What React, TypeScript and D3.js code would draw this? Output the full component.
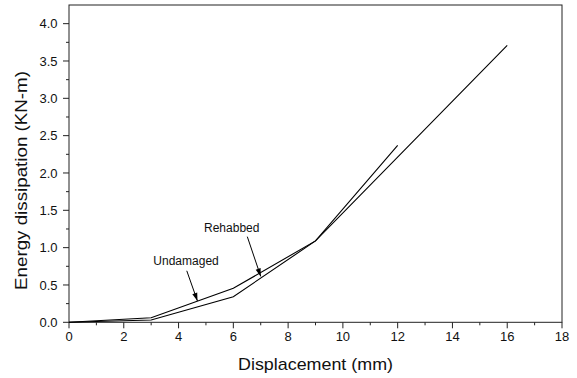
import React from "react";
import * as d3 from "d3";

const undamagedX = [0, 3, 6, 9, 12];
const undamagedY = [0, 0.06, 0.455, 1.09, 2.37];
const rehabbedX = [0, 3, 6, 9, 16];
const rehabbedY = [0, 0.03, 0.343, 1.09, 3.71];
const xTicks = [0, 2, 4, 6, 8, 10, 12, 14, 16, 18];
const yTicks = [0, 0.5, 1, 1.5, 2, 2.5, 3, 3.5, 4];
const xMinor = d3.range(1, 18, 2);
const yMinor = [0.25, 0.75, 1.25, 1.75, 2.25, 2.75, 3.25, 3.75];
// annotation positions in data units: [textX, textY, arrowFromX, arrowFromY, arrowToX, arrowToY]
const annoLabels = ["Undamaged", "Rehabbed"];
const annoText = [[3.08, 0.77], [4.93, 1.21]];
const annoArrow = [[4.3, 0.69, 4.69, 0.285], [6.51, 1.147, 7.0, 0.615]];

const W = 577, H = 378;
const L = 69, R = 562, T = 5, B = 322.3;
const FONT = "'Liberation Sans', Arial, Helvetica, sans-serif";

export default function App() {
  const x = d3.scaleLinear().domain([0, 18]).range([L, R]);
  const y = d3.scaleLinear().domain([0, 4.25]).range([B, T]);
  const line = d3.line<[number, number]>().x(d => x(d[0])).y(d => y(d[1]));
  const und = undamagedX.map((v, i) => [v, undamagedY[i]] as [number, number]);
  const reh = rehabbedX.map((v, i) => [v, rehabbedY[i]] as [number, number]);

  const arrowHead = (x1: number, y1: number, x2: number, y2: number) => {
    const ang = Math.atan2(y2 - y1, x2 - x1);
    const len = 8, wid = 2.6;
    const bx = x2 - len * Math.cos(ang), by = y2 - len * Math.sin(ang);
    const px = -Math.sin(ang) * wid, py = Math.cos(ang) * wid;
    return `M${x2},${y2}L${bx + px},${by + py}L${bx - px},${by - py}Z`;
  };

  return (
    <svg width={W} height={H} style={{ position: "absolute", left: 0, top: 0, background: "#fff" }} fontFamily={FONT}>
      <rect x={0} y={0} width={W} height={H} fill="#fff" />
      {/* frame */}
      <rect x={L} y={T} width={R - L} height={B - T} fill="none" stroke="#222" strokeWidth={1} />
      {/* x ticks */}
      {xTicks.map(t => (
        <g key={"xt" + t}>
          <line x1={x(t)} x2={x(t)} y1={B} y2={B + 6} stroke="#222" />
          <text x={x(t)} y={B + 18.5} fontSize={13} textAnchor="middle" fill="#111">{t}</text>
        </g>
      ))}
      {xMinor.map(t => (
        <line key={"xm" + t} x1={x(t)} x2={x(t)} y1={B} y2={B + 3} stroke="#222" />
      ))}
      {/* y ticks */}
      {yTicks.map(t => (
        <g key={"yt" + t}>
          <line x1={L - 6} x2={L} y1={y(t)} y2={y(t)} stroke="#222" />
          <text x={L - 11.5} y={y(t) + 4.6} fontSize={13} textAnchor="end" fill="#111">{t.toFixed(1)}</text>
        </g>
      ))}
      {yMinor.map(t => (
        <line key={"ym" + t} x1={L - 3} x2={L} y1={y(t)} y2={y(t)} stroke="#222" />
      ))}
      {/* axis titles */}
      <text x={(L + R) / 2} y={370} fontSize={17} textAnchor="middle" textLength={155} lengthAdjust="spacingAndGlyphs" fill="#111">Displacement (mm)</text>
      <text transform={`translate(27,180.5) rotate(-90)`} fontSize={17} textAnchor="middle" textLength={219} lengthAdjust="spacingAndGlyphs" fill="#111">Energy dissipation (KN-m)</text>
      {/* data lines */}
      <path d={line(und) || ""} fill="none" stroke="#000" strokeWidth={1.1} />
      <path d={line(reh) || ""} fill="none" stroke="#000" strokeWidth={1.1} />
      {/* annotations */}
      {annoLabels.map((lab, i) => {
        const [tx, ty] = annoText[i];
        const [ax1, ay1, ax2, ay2] = annoArrow[i];
        const X1 = x(ax1), Y1 = y(ay1), X2 = x(ax2), Y2 = y(ay2);
        return (
          <g key={lab}>
            <text x={x(tx)} y={y(ty)} fontSize={12} fill="#111">{lab}</text>
            <line x1={X1} y1={Y1} x2={X2} y2={Y2} stroke="#000" strokeWidth={1} />
            <path d={arrowHead(X1, Y1, X2, Y2)} fill="#000" />
          </g>
        );
      })}
    </svg>
  );
}
